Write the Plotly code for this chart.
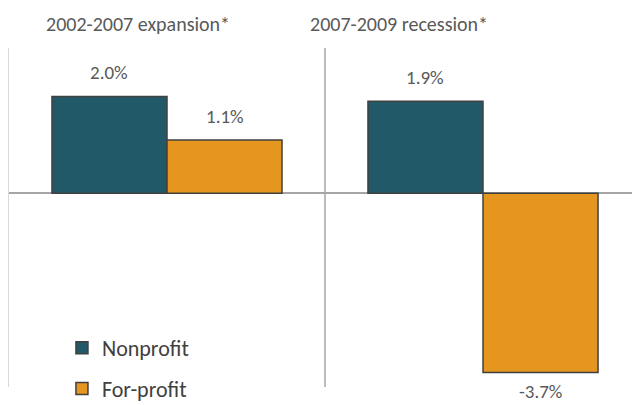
import plotly.graph_objects as go

periods = ["2002-2007 expansion*", "2007-2009 recession*"]
nonprofit = [2.0, 1.9]
forprofit = [1.1, -3.7]
series_names = ["Nonprofit", "For-profit"]
colors = ["#215968", "#E4961F"]

FONT = "Carlito, Calibri, Lato, sans-serif"
BW = 0.364
xs = list(range(len(periods)))

fig = go.Figure()
for name, vals, col, off in [(series_names[0], nonprofit, colors[0], -BW),
                             (series_names[1], forprofit, colors[1], 0.0)]:
    fig.add_trace(go.Bar(
        x=xs, y=vals, name=name, width=BW, offset=off,
        marker=dict(color=col, line=dict(color="#404040", width=1.5)),
        legendgroup=name, hoverinfo="skip",
    ))
    for xi, v in zip(xs, vals):
        fig.add_annotation(
            x=xi + off + BW / 2, y=v, text=f"{v:.1f}%", showarrow=False,
            xanchor="center", yanchor="middle",
            yshift=24 if v >= 0 else -19, xref="x", yref="y",
            font=dict(family=FONT, size=19, color="#595959"),
        )

# group titles
title_x = [0.207, 0.626]
for t, px in zip(periods, title_x):
    fig.add_annotation(x=px, y=1.07, xref="paper", yref="paper",
                       xanchor="center", yanchor="middle",
                       text=t, showarrow=False,
                       font=dict(family=FONT, size=20, color="#595959"))

# divider between groups
fig.add_shape(type="line", xref="x", yref="paper", x0=0.5, x1=0.5, y0=0, y1=1,
              line=dict(color="#A6A6A6", width=1.5))

fig.update_layout(
    width=632, height=405,
    margin=dict(l=9, r=0, t=48, b=18, autoexpand=False),
    paper_bgcolor="white", plot_bgcolor="white",
    barmode="overlay",
    showlegend=True,
    legend=dict(x=0.085, y=0.177, xanchor="left", yanchor="top",
                font=dict(family=FONT, size=22, color="#404040"),
                tracegroupgap=9, bgcolor="rgba(0,0,0,0)"),
    xaxis=dict(range=[-0.5, 1.5 - 9 / 316], showticklabels=False, showgrid=False,
               zeroline=False, showline=False, ticks=""),
    yaxis=dict(range=[-4, 3], showticklabels=False, showgrid=False, ticks="",
               zeroline=True, zerolinecolor="#A6A6A6", zerolinewidth=1.5,
               showline=True, linecolor="#D9D9D9", linewidth=1),
)
fig.write_html("out.html", config={"displayModeBar": False},
               post_script="document.body.style.margin='0';document.body.style.overflow='hidden';")
